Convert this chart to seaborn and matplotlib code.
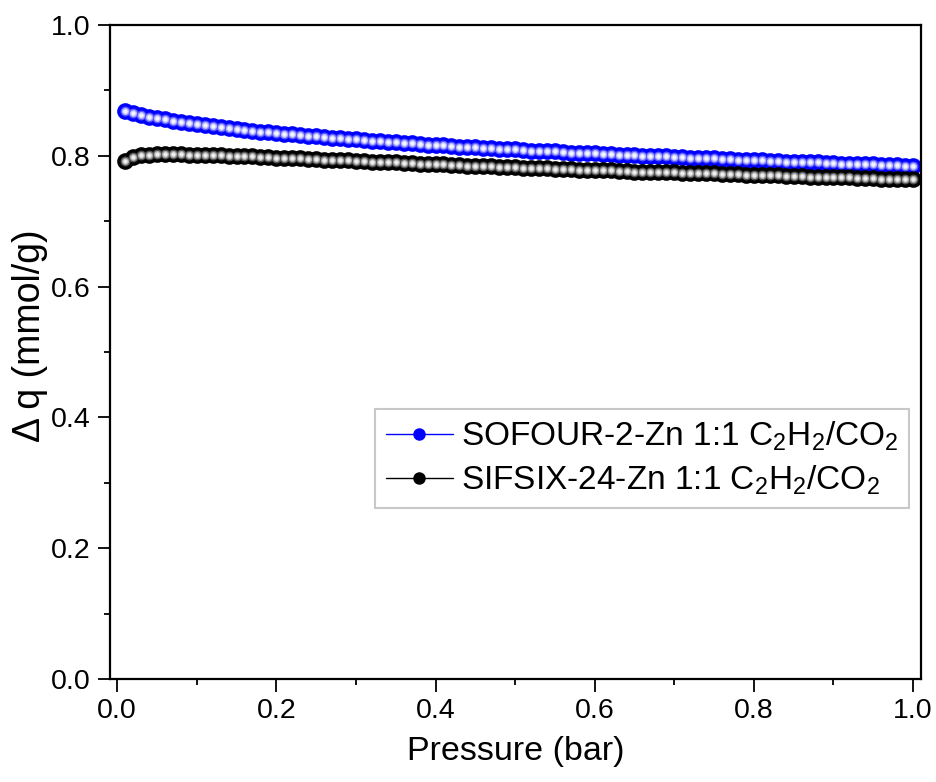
import matplotlib
matplotlib.use("Agg")
import matplotlib.pyplot as plt
import seaborn as sns
import pandas as pd
from matplotlib.ticker import MultipleLocator

pressure = [0.01, 0.02, 0.03, 0.04, 0.05, 0.06, 0.07, 0.08, 0.09, 0.10,
            0.11, 0.12, 0.13, 0.14, 0.15, 0.16, 0.17, 0.18, 0.19, 0.20,
            0.21, 0.22, 0.23, 0.24, 0.25, 0.26, 0.27, 0.28, 0.29, 0.30,
            0.31, 0.32, 0.33, 0.34, 0.35, 0.36, 0.37, 0.38, 0.39, 0.40,
            0.41, 0.42, 0.43, 0.44, 0.45, 0.46, 0.47, 0.48, 0.49, 0.50,
            0.51, 0.52, 0.53, 0.54, 0.55, 0.56, 0.57, 0.58, 0.59, 0.60,
            0.61, 0.62, 0.63, 0.64, 0.65, 0.66, 0.67, 0.68, 0.69, 0.70,
            0.71, 0.72, 0.73, 0.74, 0.75, 0.76, 0.77, 0.78, 0.79, 0.80,
            0.81, 0.82, 0.83, 0.84, 0.85, 0.86, 0.87, 0.88, 0.89, 0.90,
            0.91, 0.92, 0.93, 0.94, 0.95, 0.96, 0.97, 0.98, 0.99, 1.00]

sofour_dq = [0.869, 0.866, 0.863, 0.860, 0.858, 0.856, 0.854, 0.852, 0.850, 0.848,
             0.847, 0.845, 0.844, 0.842, 0.841, 0.840, 0.838, 0.837, 0.836, 0.835,
             0.834, 0.833, 0.832, 0.831, 0.830, 0.829, 0.828, 0.827, 0.826, 0.825,
             0.824, 0.823, 0.822, 0.821, 0.821, 0.820, 0.819, 0.818, 0.817, 0.817,
             0.816, 0.815, 0.814, 0.814, 0.813, 0.812, 0.812, 0.811, 0.810, 0.810,
             0.809, 0.808, 0.808, 0.807, 0.807, 0.806, 0.805, 0.805, 0.804, 0.804,
             0.803, 0.803, 0.802, 0.801, 0.801, 0.800, 0.800, 0.799, 0.799, 0.798,
             0.798, 0.797, 0.797, 0.796, 0.796, 0.795, 0.795, 0.794, 0.794, 0.793,
             0.793, 0.792, 0.792, 0.791, 0.791, 0.791, 0.790, 0.790, 0.789, 0.789,
             0.788, 0.788, 0.788, 0.787, 0.787, 0.786, 0.786, 0.786, 0.785, 0.785]

sifsix_dq = [0.792, 0.798, 0.801, 0.802, 0.803, 0.803, 0.803, 0.803, 0.802, 0.802,
             0.802, 0.801, 0.801, 0.800, 0.800, 0.799, 0.799, 0.798, 0.798, 0.797,
             0.797, 0.796, 0.796, 0.795, 0.795, 0.794, 0.794, 0.793, 0.793, 0.792,
             0.792, 0.791, 0.791, 0.790, 0.790, 0.789, 0.789, 0.788, 0.788, 0.787,
             0.787, 0.786, 0.786, 0.785, 0.785, 0.784, 0.784, 0.783, 0.783, 0.783,
             0.782, 0.782, 0.781, 0.781, 0.780, 0.780, 0.780, 0.779, 0.779, 0.778,
             0.778, 0.778, 0.777, 0.777, 0.776, 0.776, 0.776, 0.775, 0.775, 0.775,
             0.774, 0.774, 0.773, 0.773, 0.773, 0.772, 0.772, 0.772, 0.771, 0.771,
             0.771, 0.770, 0.770, 0.769, 0.769, 0.769, 0.768, 0.768, 0.768, 0.767,
             0.767, 0.767, 0.766, 0.766, 0.766, 0.765, 0.765, 0.765, 0.764, 0.764]

labels = ["SOFOUR-2-Zn 1:1 C$_2$H$_2$/CO$_2$", "SIFSIX-24-Zn 1:1 C$_2$H$_2$/CO$_2$"]
x_ticks = [0.0, 0.2, 0.4, 0.6, 0.8, 1.0]
y_ticks = [0.0, 0.2, 0.4, 0.6, 0.8, 1.0]

sns.set_theme(style="white")
plt.rcParams['font.family'] = ['Liberation Sans', 'DejaVu Sans']
plt.rcParams['mathtext.fontset'] = 'custom'
plt.rcParams['mathtext.rm'] = 'Liberation Sans'
plt.rcParams['mathtext.it'] = 'Liberation Sans'
plt.rcParams['text.color'] = 'black'
plt.rcParams['axes.labelcolor'] = 'black'

fig = plt.figure(figsize=(9.36, 7.82), dpi=100)
ax = fig.add_axes([0.1175, 0.1317, 0.8665, 0.8363])

df1 = pd.DataFrame({"P": pressure, "dq": sofour_dq})
df2 = pd.DataFrame({"P": pressure, "dq": sifsix_dq})

series = [
    (df1, "#0000ff", "#5a5aff", "#b8b8ff", "#f4f4ff", labels[0]),
    (df2, "#000000", "#555555", "#aaaaaa", "#eeeeee", labels[1]),
]
for df, base, mid, mid2, hi, lab in series:
    sns.lineplot(data=df, x="P", y="dq", ax=ax, color=base, lw=1.0,
                 marker="o", markersize=12, markeredgewidth=0, label=lab)
    sns.scatterplot(data=df, x="P", y="dq", ax=ax, color=mid, s=50,
                    linewidth=0, legend=False, zorder=3)
    sns.scatterplot(data=df, x="P", y="dq", ax=ax, color=mid2, s=26,
                    linewidth=0, legend=False, zorder=4)
    sns.scatterplot(data=df, x="P", y="dq", ax=ax, color=hi, s=10,
                    linewidth=0, legend=False, zorder=5)

ax.set_xlim(-0.009, 1.01)
ax.set_ylim(0.0, 1.0)
ax.set_xticks(x_ticks)
ax.set_yticks(y_ticks)
ax.set_xticklabels([f"{t:.1f}" for t in x_ticks])
ax.set_yticklabels([f"{t:.1f}" for t in y_ticks])
ax.xaxis.set_minor_locator(MultipleLocator(0.1))
ax.yaxis.set_minor_locator(MultipleLocator(0.1))
ax.tick_params(axis="both", which="major", direction="out", length=9, width=1.3,
               labelsize=20.5, color="black", labelcolor="black", pad=5,
               bottom=True, left=True, top=False, right=False)
ax.tick_params(axis="both", which="minor", direction="out", length=4.5, width=1.3,
               color="black", bottom=True, left=True, top=False, right=False)
for sp in ax.spines.values():
    sp.set_color("black")
    sp.set_linewidth(1.6)

ax.set_xlabel("Pressure (bar)", fontsize=24.5, labelpad=8, color="black")
ax.set_ylabel("Δ q (mmol/g)", fontsize=27, color="black")
ax.yaxis.set_label_coords(-0.077, 0.525)

leg = ax.legend(loc="lower left", bbox_to_anchor=(0.327, 0.262), fontsize=24,
                frameon=True, fancybox=False, edgecolor="#c8c8c8", framealpha=1,
                handlelength=2.0, borderpad=0.32, labelspacing=0.32, handletextpad=0.25,
                borderaxespad=0.0, markerscale=0.75)
leg.get_frame().set_linewidth(1.5)
for t in leg.get_texts():
    t.set_color("black")

fig.savefig("out.png", dpi=100)
